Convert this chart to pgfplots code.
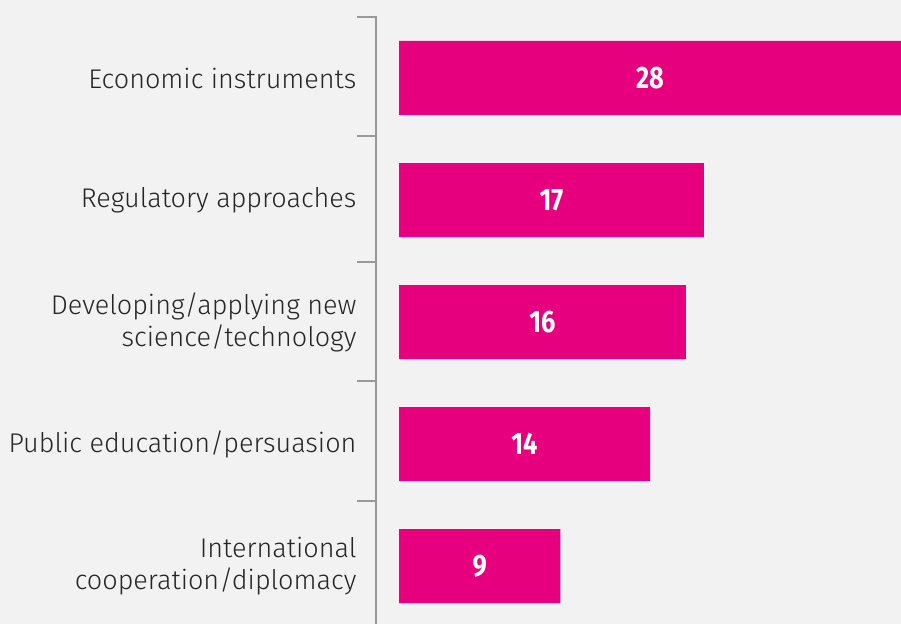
\documentclass[border=0pt]{standalone}
\usepackage{pgfplots}
\pgfplotsset{compat=1.18}
\usepackage{fontspec}
\setmainfont{Fira Sans}[UprightFont=* Light, BoldFont=* SemiBold]
\newfontfamily\numfont{Fira Sans}[UprightFont=* Bold, FakeStretch=0.82]
\definecolor{bg}{HTML}{F2F2F2}
\definecolor{mag}{HTML}{E6007E}
\definecolor{ax}{HTML}{999999}
\definecolor{txt}{HTML}{262626}
\begin{document}
\begin{tikzpicture}
\fill[bg] (0,0) rectangle (901pt,-624pt);
\begin{axis}[
 at={(376pt,-16pt)}, anchor=north west,
 scale only axis, width=525pt, height=608pt,
 xmin=-1.283, xmax=28, ymin=-0.475, ymax=4.508,
 xbar, bar width=74pt, bar shift=0pt,
 axis x line=none,
 axis y line=left,
 y axis line style={-, draw=ax, line width=2pt},
 ytick={0,1,2,3,4},
 yticklabels={International\\cooperation/diplomacy, Public education/persuasion, Developing/applying new\\science/technology, Regulatory approaches, Economic instruments},
 major tick length=0pt,
 minor ytick={0.533,1.516,2.492,3.525,4.5},
 minor tick length=19pt,
 tick align=outside,
 minor tick style={draw=ax, line width=2pt},
 yticklabel style={align=right, font=\fontsize{27}{32}\selectfont, text=txt, xshift=-16pt},
 /pgf/number format/assume math mode=true,
 nodes near coords,
 visualization depends on={x \as \rawx},
 nodes near coords style={anchor=center, shift={(axis direction cs:-\rawx/2,0)}, text=white, font=\fontsize{31}{32}\selectfont\numfont},
]
\addplot[fill=mag, draw=none] coordinates {(9,0) (14,1) (16,2) (17,3) (28,4)};
\end{axis}
\end{tikzpicture}
\end{document}
